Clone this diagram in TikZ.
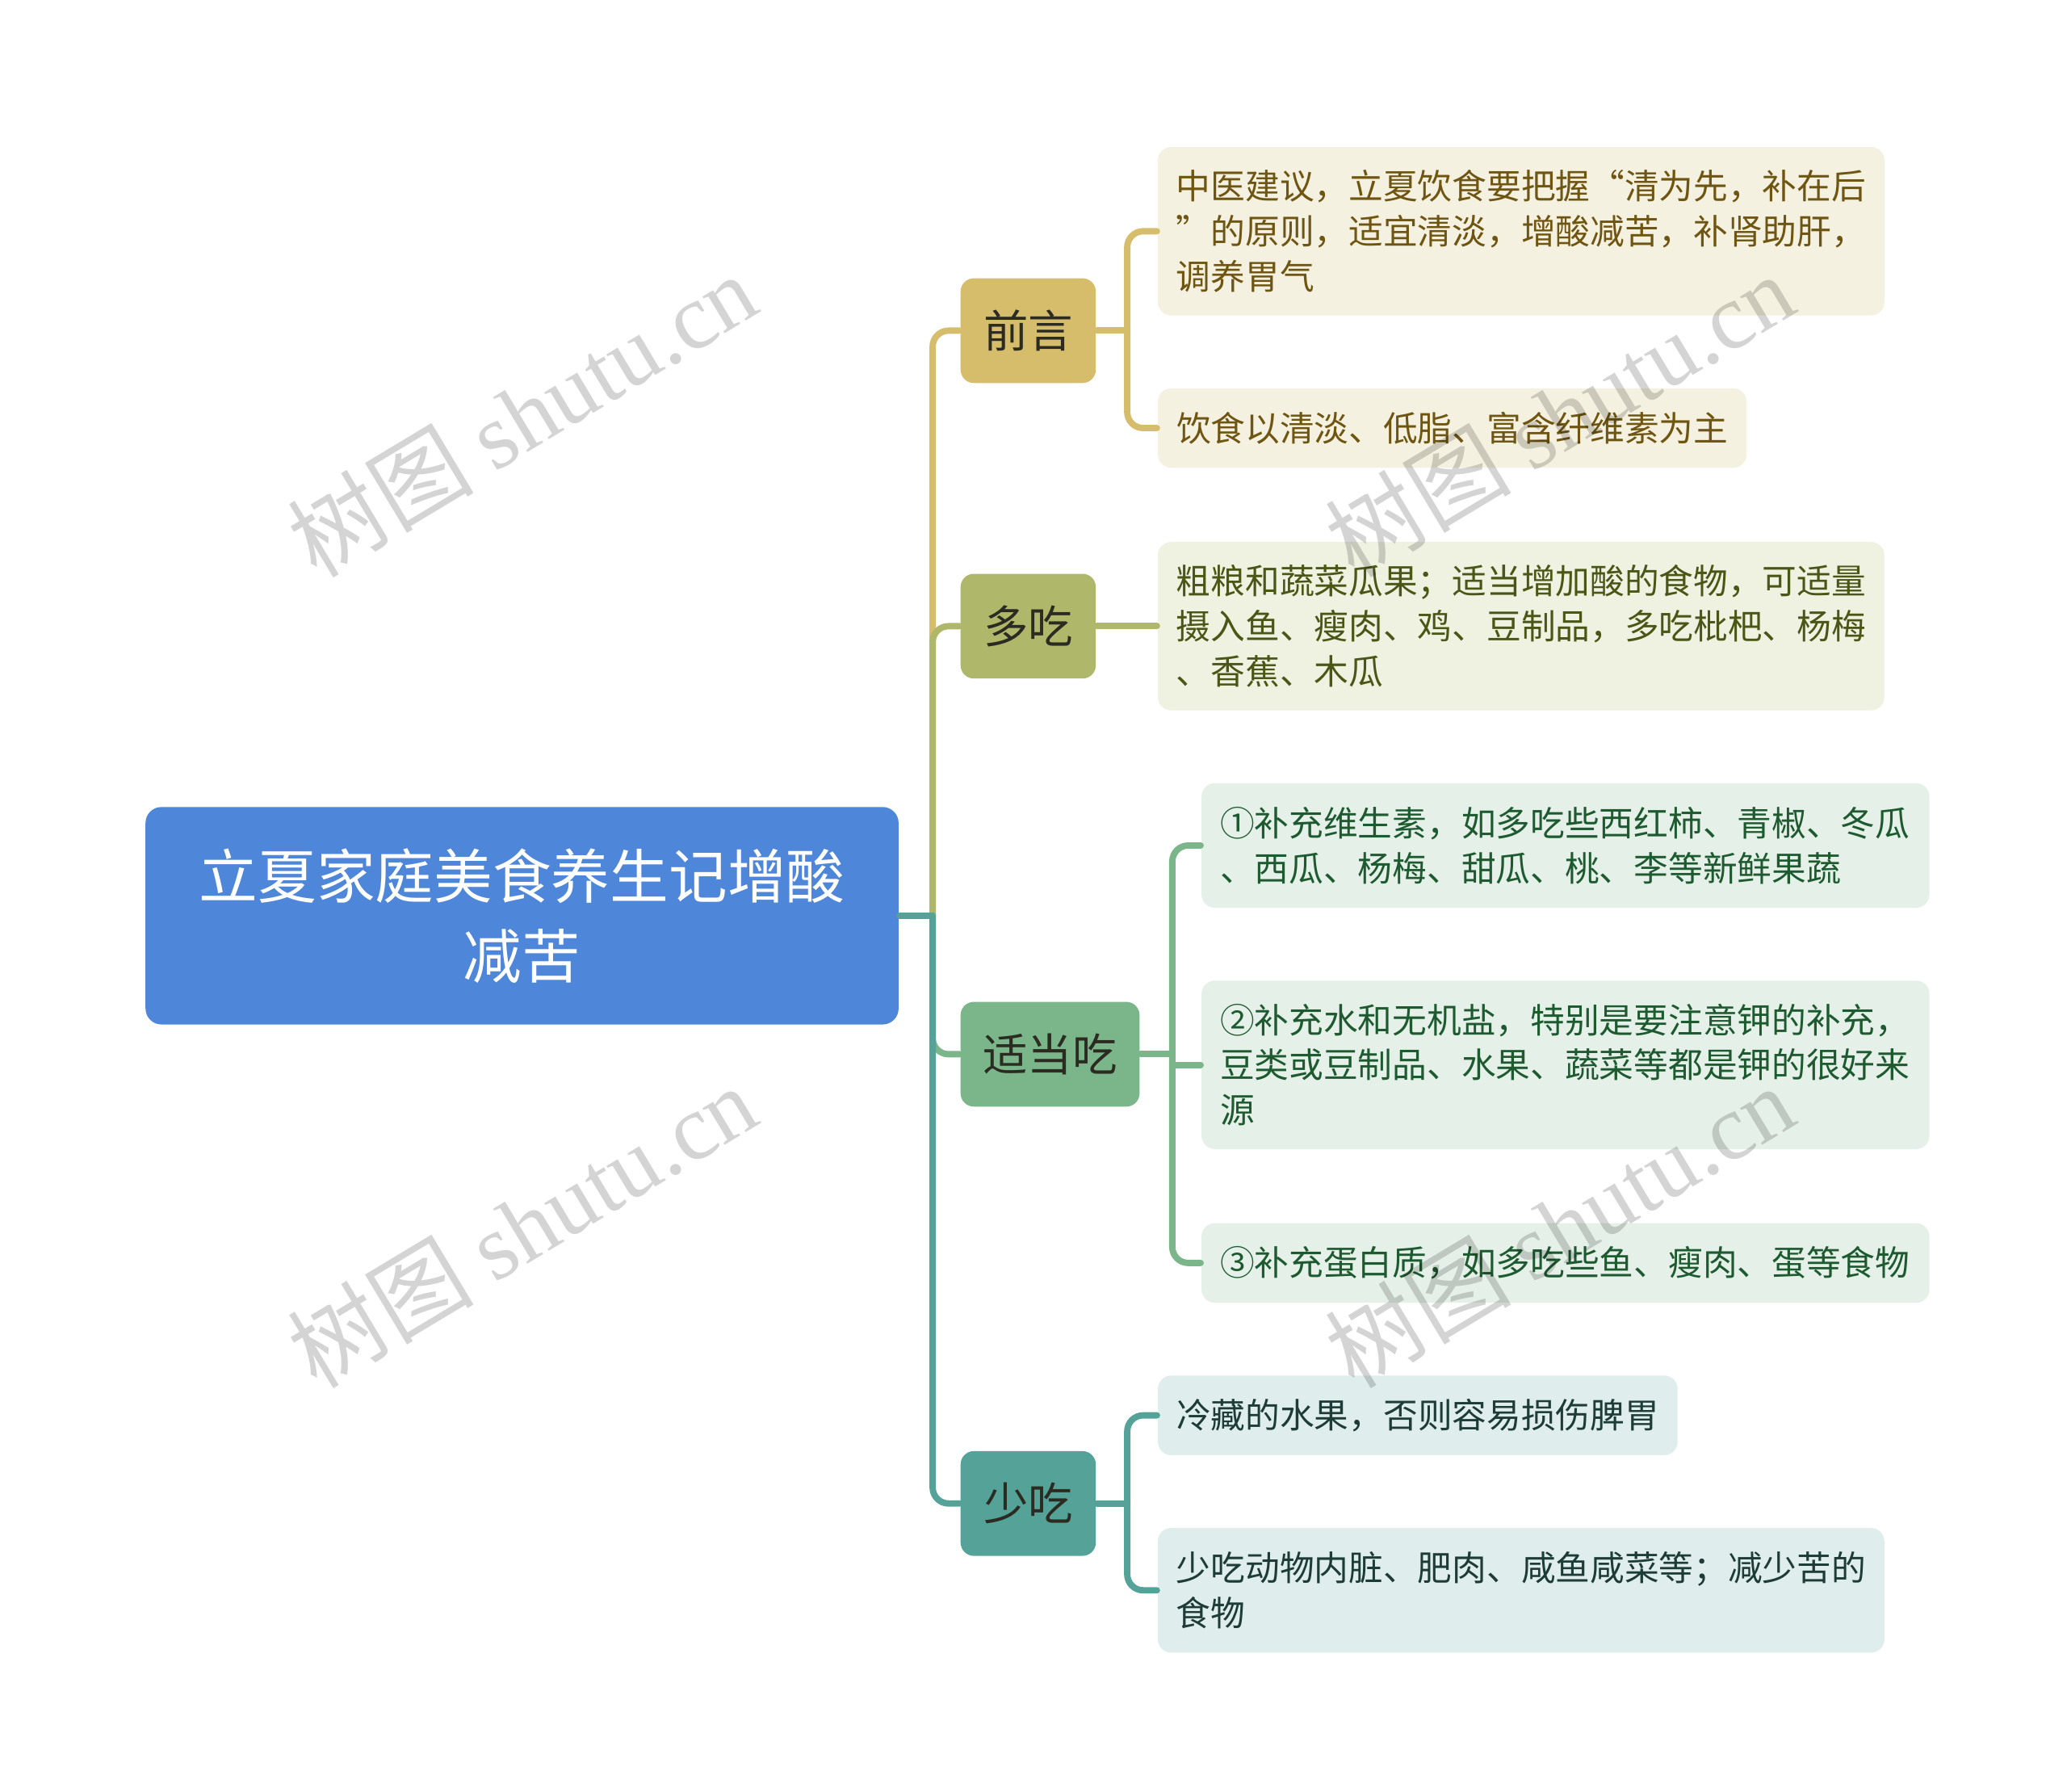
\documentclass[tikz,border=0pt]{standalone}
\usepackage{fontspec}
\setmainfont{Noto Sans CJK SC}
\newfontfamily\wmlatin{Liberation Serif}
\definecolor{rootblue}{HTML}{4E86DA}
\definecolor{qyfill}{HTML}{D5BD6B}
\definecolor{dcfill}{HTML}{AFB86A}
\definecolor{sdfill}{HTML}{7BB58A}
\definecolor{scfill}{HTML}{55A398}
\definecolor{qyleaf}{HTML}{F5F1E0}
\definecolor{dcleaf}{HTML}{EFF1E1}
\definecolor{sdleaf}{HTML}{E5F0E8}
\definecolor{scleaf}{HTML}{DFEEEC}
\definecolor{qyink}{HTML}{6E5512}
\definecolor{dcink}{HTML}{4A5616}
\definecolor{sdink}{HTML}{1E5A30}
\definecolor{scink}{HTML}{1D3C37}
\definecolor{catink}{HTML}{2B2B22}
\tikzset{
  rootbox/.style={fill=rootblue,text=white,rounded corners=0.12cm,minimum width=5.68cm,minimum height=1.64cm,align=center,inner sep=0pt,font=\fontsize{12.6pt}{17.1pt}\selectfont},
  catbox/.style={rounded corners=0.1cm,minimum height=0.79cm,inner sep=0pt,text=catink,font=\fontsize{9.6pt}{12pt}\selectfont},
  leafbox/.style={rounded corners=0.1cm,inner xsep=0.14cm,inner ysep=0pt,align=left,font=\fontsize{7.4pt}{9.68pt}\selectfont},
  link/.style={line width=0.048cm,rounded corners=0.12cm},
  wmark/.style={text=black,text opacity=0.17,rotate=31,font=\fontsize{20pt}{24pt}\selectfont}
}
\begin{document}
\begin{tikzpicture}[line cap=round,line join=round,x=0.01cm,y=-0.01cm]
		\useasboundingbox (0,0) rectangle (1560,1352);
		% root
		\node[rootbox] (root) at (394,691) {立夏家庭美食养生记增酸\\减苦};
		% categories
		\node[catbox,fill=qyfill,minimum width=1.02cm] (qy) at (776,249.5) {前言};
		\node[catbox,fill=dcfill,minimum width=1.02cm] (dc) at (776,472.5) {多吃};
		\node[catbox,fill=sdfill,minimum width=1.35cm] (sd) at (792.5,795.5) {适当吃};
		\node[catbox,fill=scfill,minimum width=1.02cm] (sc) at (776,1134.5) {少吃};
		% leaves
		\node[leafbox,fill=qyleaf,text=qyink,text width=5.2cm,minimum height=1.27cm] (qy1) at (1148,174.5) {中医建议，立夏饮食要把握“清为先，补在后\\”的原则，适宜清淡，增酸减苦，补肾助肝，\\调养胃气};
		\node[leafbox,fill=qyleaf,text=qyink,text width=4.16cm,minimum height=0.6cm] (qy2) at (1096,323) {饮食以清淡、低脂、富含纤维素为主};
		\node[leafbox,fill=dcleaf,text=dcink,text width=5.2cm,minimum height=1.27cm] (dc1) at (1148,472.5) {粗粮和蔬菜瓜果；适当增加酸的食物，可适量\\摄入鱼、瘦肉、鸡、豆制品，多吃枇杷、杨梅\\、香蕉、木瓜};
		\node[leafbox,fill=sdleaf,text=sdink,text width=5.21cm,minimum height=0.94cm] (sd1) at (1181.5,638) {①补充维生素，如多吃些西红柿、青椒、冬瓜\\、西瓜、杨梅、甜瓜、桃、李等新鲜果蔬};
		\node[leafbox,fill=sdleaf,text=sdink,text width=5.21cm,minimum height=1.27cm] (sd2) at (1181.5,803.5) {②补充水和无机盐，特别是要注意钾的补充，\\豆类或豆制品、水果、蔬菜等都是钾的很好来\\源};
		\node[leafbox,fill=sdleaf,text=sdink,text width=5.21cm,minimum height=0.6cm] (sd3) at (1181.5,953) {③补充蛋白质，如多吃些鱼、瘦肉、蛋等食物};
		\node[leafbox,fill=scleaf,text=scink,text width=3.64cm,minimum height=0.6cm] (sc1) at (1070,1068) {冷藏的水果，否则容易损伤脾胃};
		\node[leafbox,fill=scleaf,text=scink,text width=5.2cm,minimum height=0.94cm] (sc2) at (1148,1200) {少吃动物内脏、肥肉、咸鱼咸菜等；减少苦的\\食物};
		% junction points
		\coordinate (rj) at ([xshift=0.25cm]root.east);
		\coordinate (qj) at ([xshift=0.23cm]qy.east);
		\coordinate (sj) at ([xshift=0.24cm]sd.east);
		\coordinate (cj) at ([xshift=0.23cm]sc.east);
		% root to categories
		\draw[link,draw=qyfill] (rj) |- (qy.west);
		\draw[link,draw=dcfill] (rj) |- (dc.west);
		\draw[link,draw=sdfill] (rj) |- (sd.west);
		\draw[link,draw=scfill] (rj) |- (sc.west);
		\draw[link,draw=scfill] (root.east) -- (rj);
		% categories to leaves
		\draw[link,draw=qyfill] (qy.east) -- (qj);
		\draw[link,draw=qyfill] (qj) |- (qy1.west);
		\draw[link,draw=qyfill] (qj) |- (qy2.west);
		\draw[link,draw=dcfill] (dc.east) -- (dc1.west);
		\draw[link,draw=sdfill] (sd.east) -- (sj);
		\draw[link,draw=sdfill] (sj) |- (sd1.west);
		\draw[link,draw=sdfill] (sd2.west -| sj) -- (sd2.west);
		\draw[link,draw=sdfill] (sj) |- (sd3.west);
		\draw[link,draw=scfill] (sc.east) -- (cj);
		\draw[link,draw=scfill] (cj) |- (sc1.west);
		\draw[link,draw=scfill] (cj) |- (sc2.west);
		% watermarks
		\node[wmark] (wm1) at (394,313) {树图 {\wmlatin shutu.cn}};
		\node[wmark] (wm2) at (1177,313) {树图 {\wmlatin shutu.cn}};
		\node[wmark] (wm3) at (394,925) {树图 {\wmlatin shutu.cn}};
		\node[wmark] (wm4) at (1177,925) {树图 {\wmlatin shutu.cn}};
\end{tikzpicture}
\end{document}
